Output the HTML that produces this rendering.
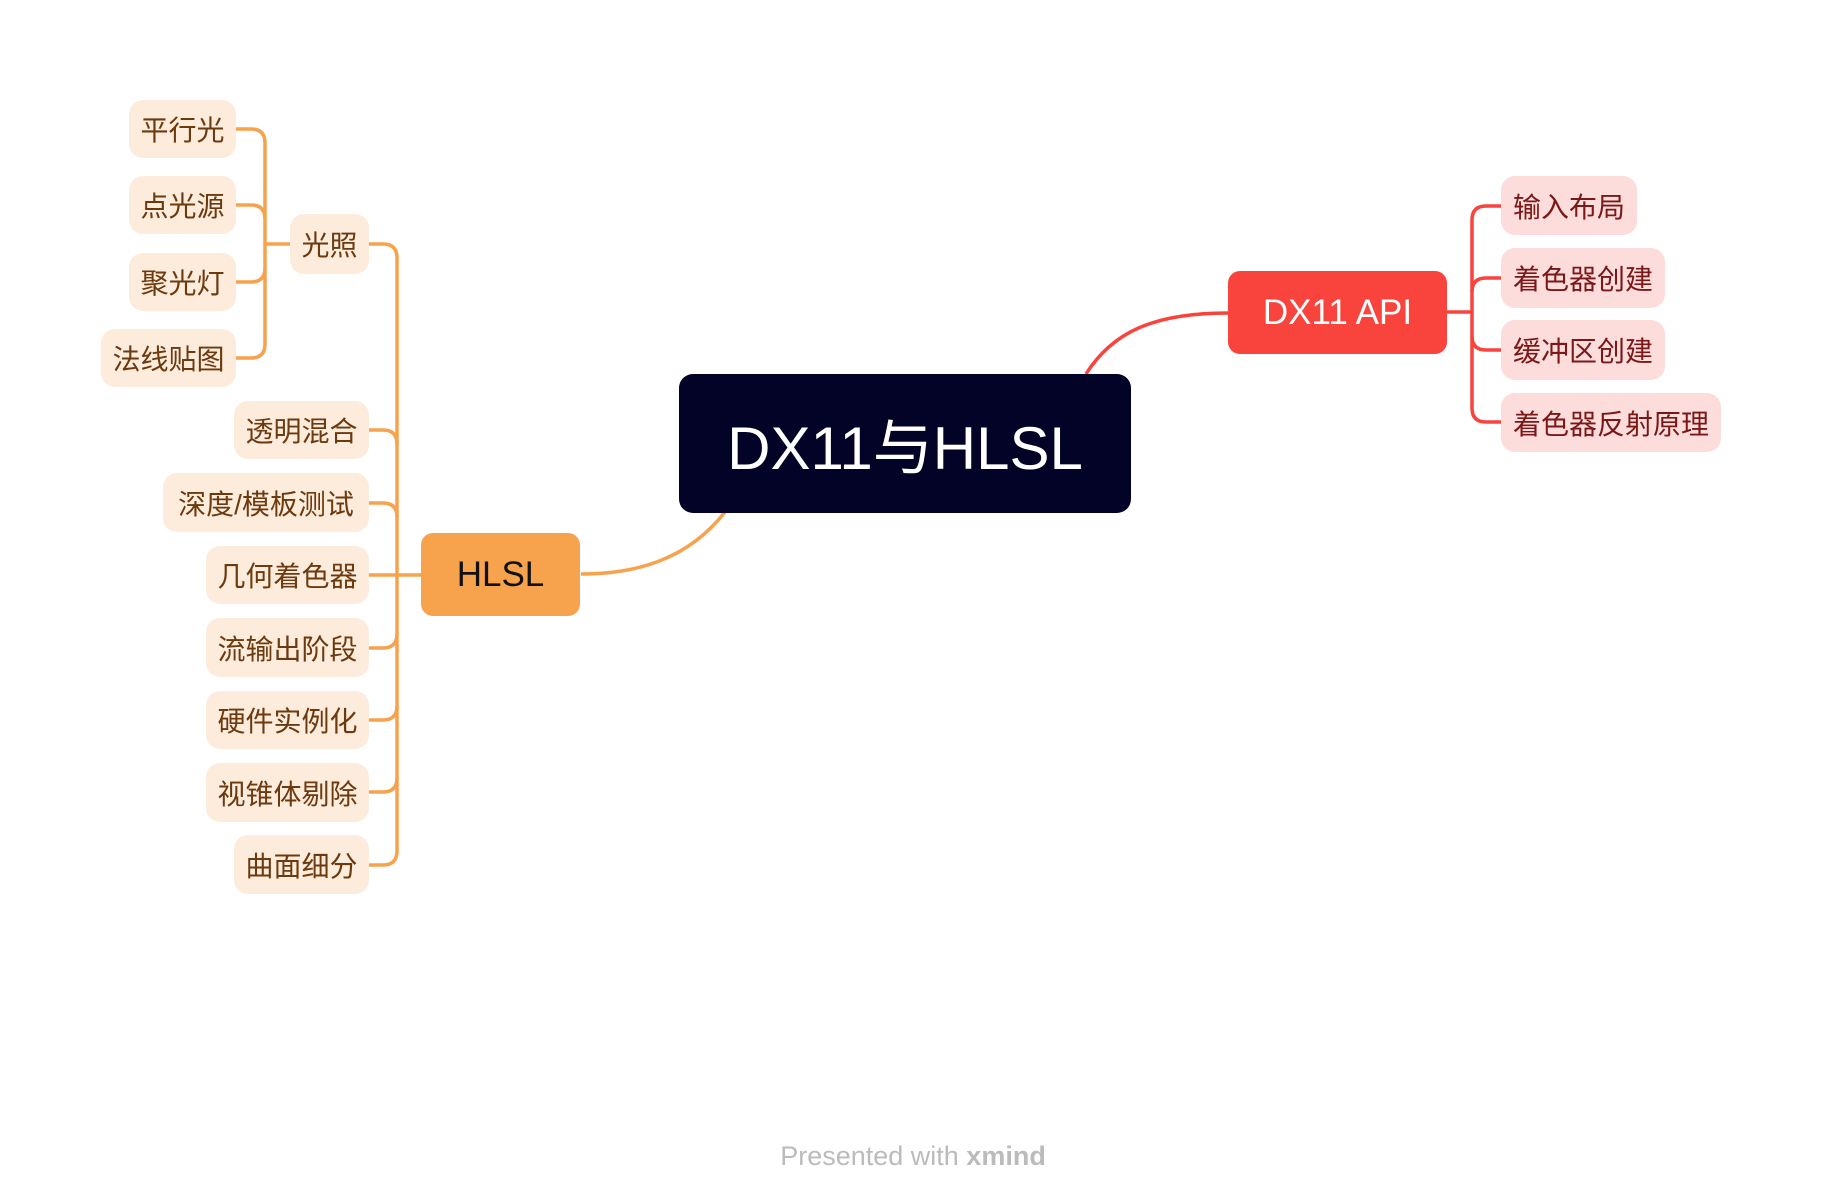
<!DOCTYPE html>
<html><head><meta charset="utf-8"><style>
body{margin:0;width:1822px;height:1204px;background:#fff;position:relative;overflow:hidden;font-family:"Liberation Sans","Noto Sans CJK SC",sans-serif}
.n{position:absolute;display:flex;align-items:center;justify-content:center;box-sizing:border-box;white-space:nowrap}
.o{background:#FDEBDC;color:#6B3A0F;font-size:28px;border-radius:14px}
.r{background:#FDDCDC;color:#7A1717;font-size:28px;border-radius:14px}
svg{position:absolute;left:0;top:0}
</style></head><body>
<svg width="1822" height="1204" fill="none" stroke-width="3.5">
<g transform="translate(-1,-2)">
<g stroke="#F7A24C">
<path d="M726 514 C690 560 640 576 582 576"/>
<path d="M237 131 H252 Q266 131 266 145 V346 Q266 360 252 360 H237"/>
<path d="M237 207 H252 Q266 207 266 221"/>
<path d="M237 284 H252 Q266 284 266 270"/>
<path d="M266 246 H291"/>
<path d="M370 246 H384 Q398 246 398 260 V853 Q398 867 384 867 H370"/>
<path d="M370 432 H384 Q398 432 398 446"/>
<path d="M370 505 H384 Q398 505 398 519"/>
<path d="M370 577 H423"/>
<path d="M370 650 H384 Q398 650 398 636"/>
<path d="M370 722 H384 Q398 722 398 708"/>
<path d="M370 794 H384 Q398 794 398 780"/>
</g>
</g>
<g stroke="#F9443D" transform="translate(-8,-2)">
<path d="M1094 376 C1120 335 1160 315 1236 315"/>
<path d="M1455 314 H1480"/>
<path d="M1509 208 H1494 Q1480 208 1480 222 V410 Q1480 424 1494 424 H1509"/>
<path d="M1509 280 H1494 Q1480 280 1480 294"/>
<path d="M1509 352 H1494 Q1480 352 1480 338"/>
</g>
</svg>
<div class="n" style="left:679px;top:374px;width:452px;height:139px;background:#020326;color:#fff;font-size:60px;border-radius:14px">DX11与HLSL</div>
<div class="n" style="left:421px;top:533px;width:159px;height:83px;background:#F7A24C;color:#111;font-size:35px;border-radius:12px">HLSL</div>
<div class="n" style="left:1228px;top:271px;width:219px;height:83px;background:#F9443D;color:#fff;font-size:35px;border-radius:12px">DX11 API</div>
<div class="n r" style="left:1501px;top:176px;width:136px;height:59px">输入布局</div>
<div class="n r" style="left:1501px;top:248px;width:164px;height:60px">着色器创建</div>
<div class="n r" style="left:1501px;top:320px;width:164px;height:60px">缓冲区创建</div>
<div class="n r" style="left:1501px;top:393px;width:220px;height:59px">着色器反射原理</div>
<div class="n o" style="left:290px;top:214px;width:79px;height:60px">光照</div>
<div class="n o" style="left:129px;top:100px;width:107px;height:58px">平行光</div>
<div class="n o" style="left:129px;top:176px;width:107px;height:58px">点光源</div>
<div class="n o" style="left:129px;top:253px;width:107px;height:58px">聚光灯</div>
<div class="n o" style="left:101px;top:329px;width:135px;height:58px">法线贴图</div>
<div class="n o" style="left:234px;top:401px;width:135px;height:58px">透明混合</div>
<div class="n o" style="left:163px;top:473px;width:206px;height:59px">深度/模板测试</div>
<div class="n o" style="left:206px;top:546px;width:163px;height:58px">几何着色器</div>
<div class="n o" style="left:206px;top:618px;width:163px;height:59px">流输出阶段</div>
<div class="n o" style="left:206px;top:691px;width:163px;height:58px">硬件实例化</div>
<div class="n o" style="left:206px;top:763px;width:163px;height:59px">视锥体剔除</div>
<div class="n o" style="left:234px;top:835px;width:135px;height:59px">曲面细分</div>
<div class="n" style="left:708px;top:1138px;width:410px;height:36px;color:#bbb;font-size:27px">Presented with&nbsp;<b>xmind</b></div>
</body></html>
